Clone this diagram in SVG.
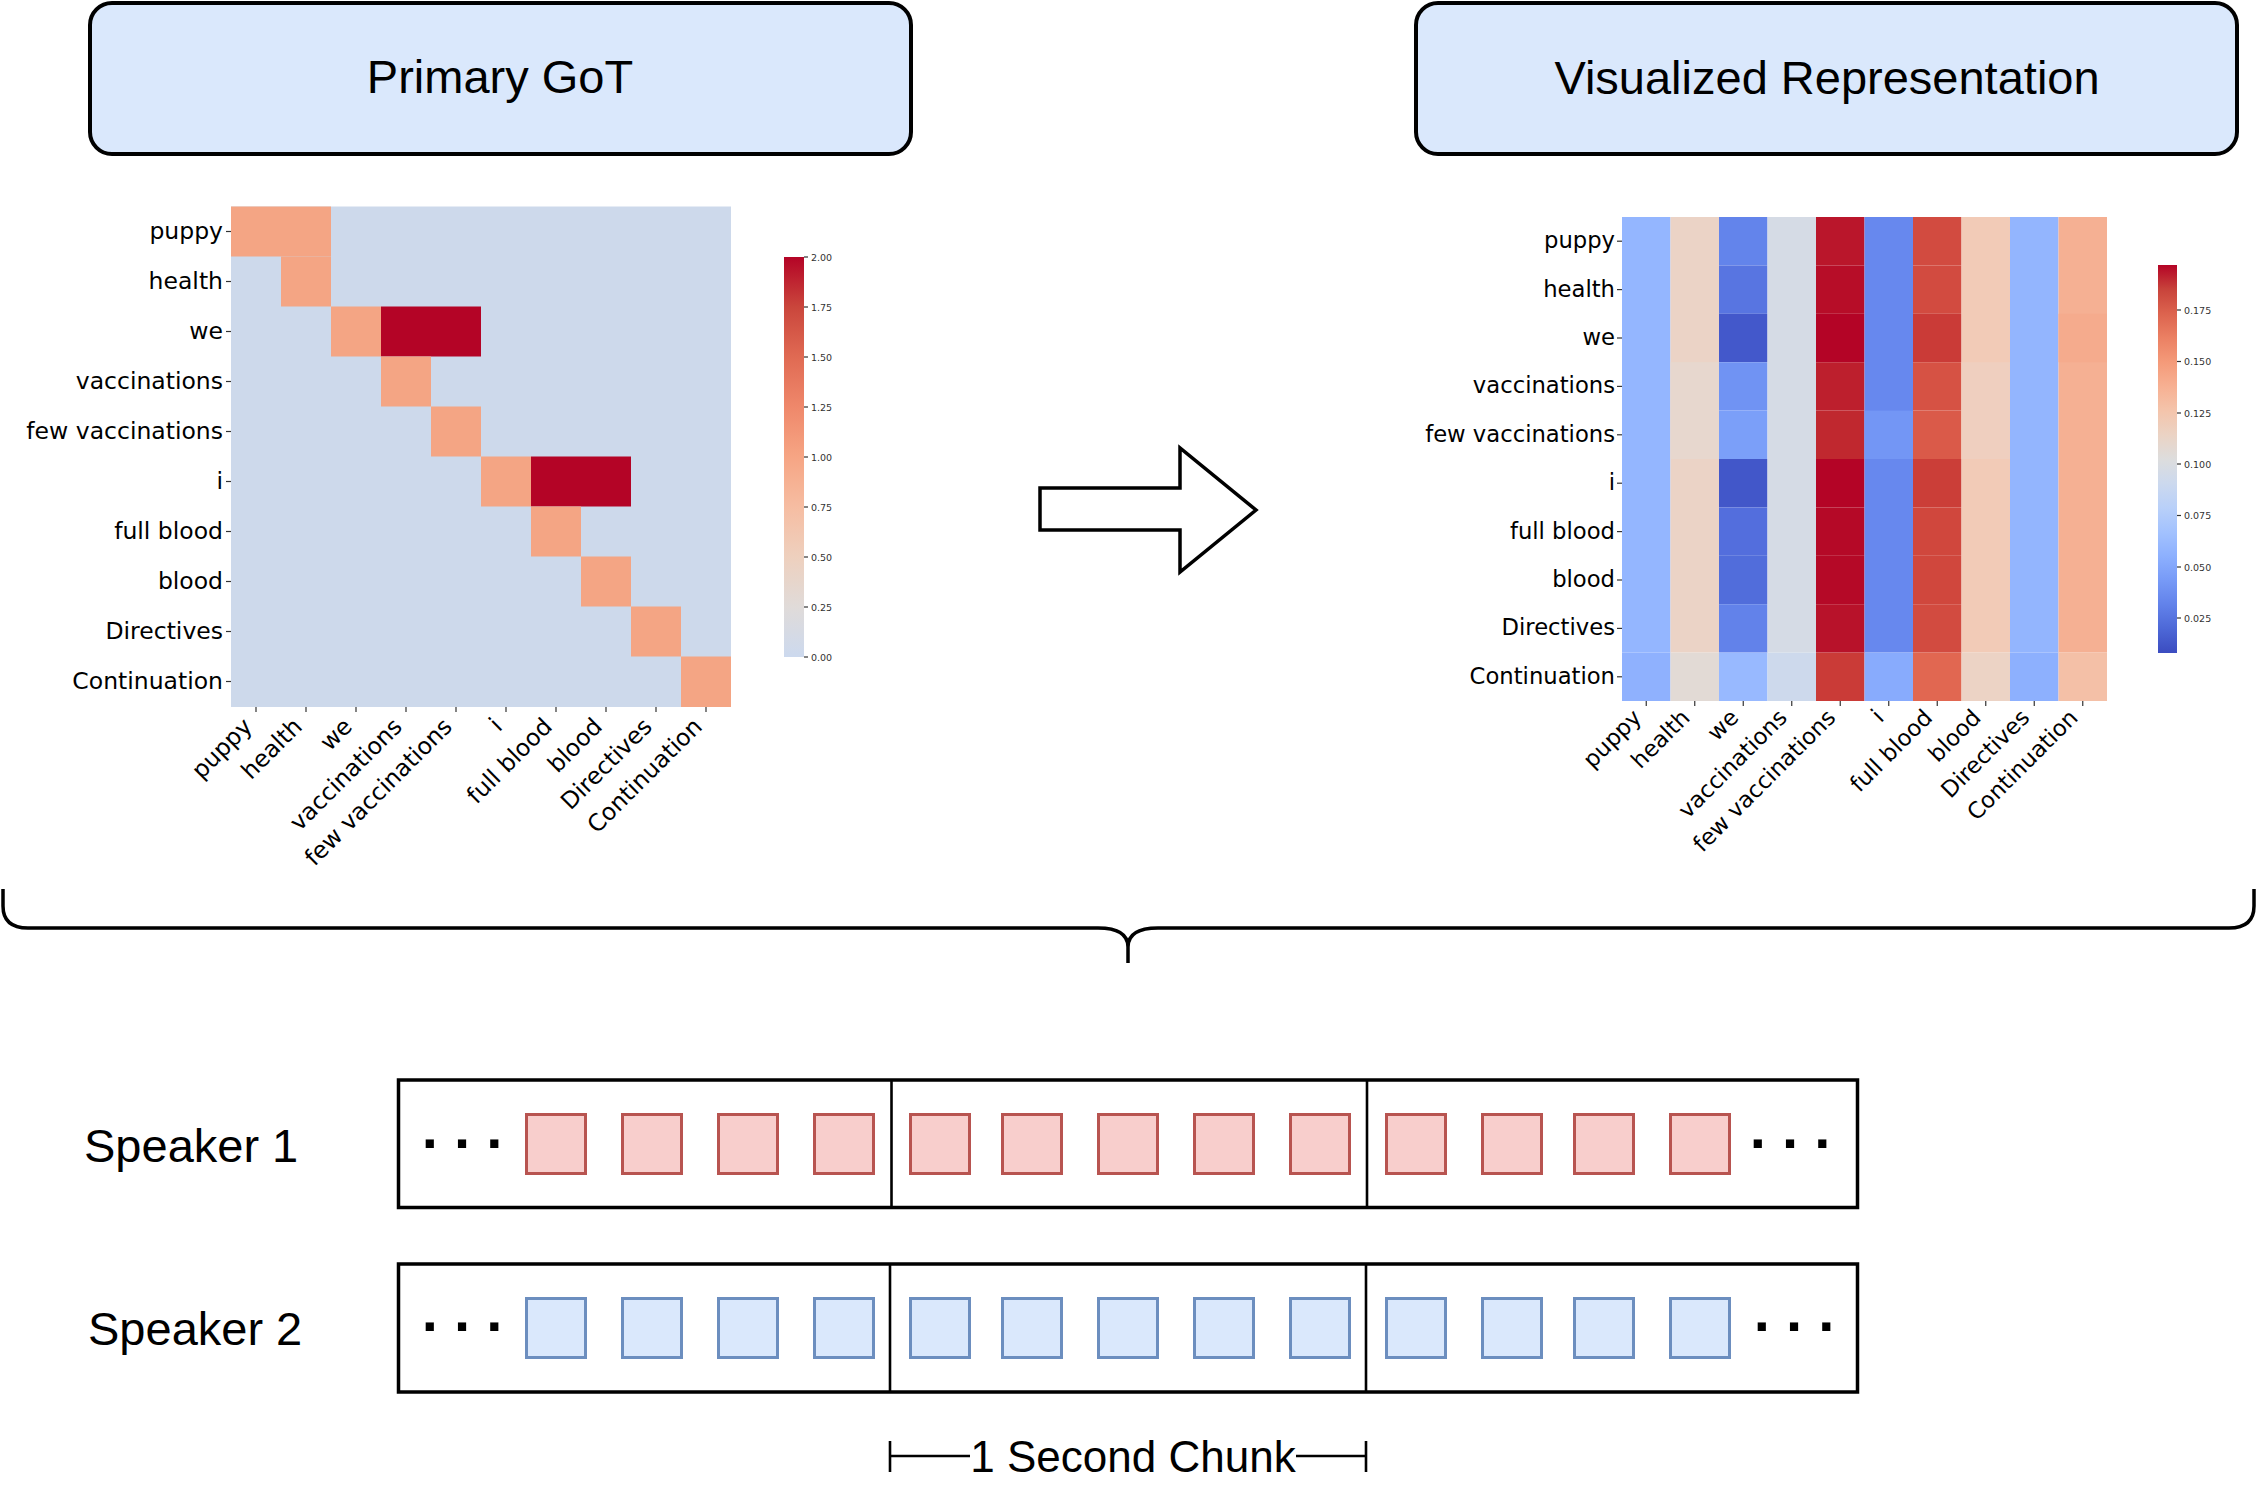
<svg xmlns="http://www.w3.org/2000/svg" width="2264" height="1496" viewBox="0 0 2264 1496">
<style>
.title{font-family:"Liberation Sans",Arial,sans-serif;font-size:47px;fill:#000;text-anchor:middle}
.tbox{fill:#DAE8FC;stroke:#000;stroke-width:4}
.ylab{font-family:"DejaVu Sans",sans-serif;font-size:23.5px;fill:#000;text-anchor:end}
.ylab2{font-family:"DejaVu Sans",sans-serif;font-size:22.7px;fill:#000;text-anchor:end}
.tick{stroke:#333;stroke-width:1.2}
.cbl{font-family:"DejaVu Sans",sans-serif;font-size:9.5px;fill:#333}
.sqr{fill:#F8CECC;stroke:#B85450;stroke-width:3}
.sqb{fill:#DAE8FC;stroke:#6C8EBF;stroke-width:3}
.frame{fill:#fff;stroke:#000;stroke-width:3.5}
.div{stroke:#000;stroke-width:2.6}
.spk{font-family:"Liberation Sans",Arial,sans-serif;font-size:47px;fill:#000}
.dots{font-family:"Liberation Sans",Arial,sans-serif;font-size:58px;font-weight:bold;fill:#000;text-anchor:middle}
.line{fill:none;stroke:#000;stroke-width:3.5}
.s{fill:#F4A584}
.r{fill:#B40426}
</style>
<defs>
<linearGradient id="cbLeft" x1="0" y1="0" x2="0" y2="1">
<stop offset="0" stop-color="#B40426"/>
<stop offset="0.125" stop-color="#CA463C"/>
<stop offset="0.25" stop-color="#E06A53"/>
<stop offset="0.375" stop-color="#EF886B"/>
<stop offset="0.5" stop-color="#F6A584"/>
<stop offset="0.625" stop-color="#F6BDA2"/>
<stop offset="0.75" stop-color="#EED0BE"/>
<stop offset="0.875" stop-color="#E0DBD9"/>
<stop offset="1" stop-color="#CCD9EE"/>
</linearGradient>
<linearGradient id="cbRight" x1="0" y1="0" x2="0" y2="1">
<stop offset="0" stop-color="#B40426"/>
<stop offset="0.0625" stop-color="#C8433B"/>
<stop offset="0.125" stop-color="#DC634E"/>
<stop offset="0.1875" stop-color="#EB8063"/>
<stop offset="0.25" stop-color="#F49A79"/>
<stop offset="0.3125" stop-color="#F7B092"/>
<stop offset="0.375" stop-color="#F4C4AB"/>
<stop offset="0.4375" stop-color="#EBD3C4"/>
<stop offset="0.5" stop-color="#DDDDDD"/>
<stop offset="0.5625" stop-color="#CCD9EE"/>
<stop offset="0.625" stop-color="#B9D0F9"/>
<stop offset="0.6875" stop-color="#A3C2FE"/>
<stop offset="0.75" stop-color="#8DB0FE"/>
<stop offset="0.8125" stop-color="#779AF7"/>
<stop offset="0.875" stop-color="#6282EA"/>
<stop offset="0.9375" stop-color="#4D68D7"/>
<stop offset="1" stop-color="#3B4CC0"/>
</linearGradient>
</defs>
<rect width="2264" height="1496" fill="#fff"/>

<g id="title-primary">
<rect class="tbox" x="90" y="3" width="821" height="151" rx="22"/>
<text class="title" x="500" y="93">Primary GoT</text>
</g>

<g id="title-visualized">
<rect class="tbox" x="1416" y="3" width="821" height="151" rx="22"/>
<text class="title" x="1827" y="94">Visualized Representation</text>
</g>

<g id="heatmap-primary">
<rect x="231" y="206.5" width="500" height="500.5" fill="#CDD9EB"/>
<rect class="s" x="231" y="206.5" width="100" height="50"/>
<rect class="s" x="281" y="256.5" width="50" height="50"/>
<rect class="s" x="331" y="306.5" width="50" height="50"/>
<rect class="r" x="381" y="306.5" width="100" height="50"/>
<rect class="s" x="381" y="356.5" width="50" height="50"/>
<rect class="s" x="431" y="406.5" width="50" height="50"/>
<rect class="s" x="481" y="456.5" width="50" height="50"/>
<rect class="r" x="531" y="456.5" width="100" height="50"/>
<rect class="s" x="531" y="506.5" width="50" height="50"/>
<rect class="s" x="581" y="556.5" width="50" height="50"/>
<rect class="s" x="631" y="606.5" width="50" height="50"/>
<rect class="s" x="681" y="656.5" width="50" height="50.5"/>
<g class="tick">
<line x1="226" y1="231.5" x2="231" y2="231.5"/><line x1="226" y1="281.5" x2="231" y2="281.5"/><line x1="226" y1="331.5" x2="231" y2="331.5"/><line x1="226" y1="381.5" x2="231" y2="381.5"/><line x1="226" y1="431.5" x2="231" y2="431.5"/><line x1="226" y1="481.5" x2="231" y2="481.5"/><line x1="226" y1="531.5" x2="231" y2="531.5"/><line x1="226" y1="581.5" x2="231" y2="581.5"/><line x1="226" y1="631.5" x2="231" y2="631.5"/><line x1="226" y1="681.5" x2="231" y2="681.5"/>
<line x1="256" y1="707" x2="256" y2="712"/><line x1="306" y1="707" x2="306" y2="712"/><line x1="356" y1="707" x2="356" y2="712"/><line x1="406" y1="707" x2="406" y2="712"/><line x1="456" y1="707" x2="456" y2="712"/><line x1="506" y1="707" x2="506" y2="712"/><line x1="556" y1="707" x2="556" y2="712"/><line x1="606" y1="707" x2="606" y2="712"/><line x1="656" y1="707" x2="656" y2="712"/><line x1="706" y1="707" x2="706" y2="712"/>
</g>
<text class="ylab" x="223" y="238.5">puppy</text>
<text class="ylab" x="223" y="288.5">health</text>
<text class="ylab" x="223" y="338.5">we</text>
<text class="ylab" x="223" y="388.5">vaccinations</text>
<text class="ylab" x="223" y="438.5">few vaccinations</text>
<text class="ylab" x="223" y="488.5">i</text>
<text class="ylab" x="223" y="538.5">full blood</text>
<text class="ylab" x="223" y="588.5">blood</text>
<text class="ylab" x="223" y="638.5">Directives</text>
<text class="ylab" x="223" y="688.5">Continuation</text>
<text class="ylab" transform="translate(253.5,728) rotate(-45)">puppy</text>
<text class="ylab" transform="translate(303.5,728) rotate(-45)">health</text>
<text class="ylab" transform="translate(353.5,728) rotate(-45)">we</text>
<text class="ylab" transform="translate(403.5,728) rotate(-45)">vaccinations</text>
<text class="ylab" transform="translate(453.5,728) rotate(-45)">few vaccinations</text>
<text class="ylab" transform="translate(503.5,728) rotate(-45)">i</text>
<text class="ylab" transform="translate(553.5,728) rotate(-45)">full blood</text>
<text class="ylab" transform="translate(603.5,728) rotate(-45)">blood</text>
<text class="ylab" transform="translate(653.5,728) rotate(-45)">Directives</text>
<text class="ylab" transform="translate(703.5,728) rotate(-45)">Continuation</text>
</g>

<g id="colorbar-primary">
<rect x="784" y="257" width="20" height="400" fill="url(#cbLeft)"/>
<g class="tick">
<line x1="804" y1="257" x2="808" y2="257"/><line x1="804" y1="307" x2="808" y2="307"/><line x1="804" y1="357" x2="808" y2="357"/><line x1="804" y1="407" x2="808" y2="407"/><line x1="804" y1="457" x2="808" y2="457"/><line x1="804" y1="507" x2="808" y2="507"/><line x1="804" y1="557" x2="808" y2="557"/><line x1="804" y1="607" x2="808" y2="607"/><line x1="804" y1="657" x2="808" y2="657"/>
</g>
<text class="cbl" x="811" y="260.5">2.00</text>
<text class="cbl" x="811" y="310.5">1.75</text>
<text class="cbl" x="811" y="360.5">1.50</text>
<text class="cbl" x="811" y="410.5">1.25</text>
<text class="cbl" x="811" y="460.5">1.00</text>
<text class="cbl" x="811" y="510.5">0.75</text>
<text class="cbl" x="811" y="560.5">0.50</text>
<text class="cbl" x="811" y="610.5">0.25</text>
<text class="cbl" x="811" y="660.5">0.00</text>
</g>

<g id="heatmap-visualized">
<rect x="1622" y="217" width="48.5" height="435.6" fill="#94B6FF"/>
<rect x="1622" y="652.6" width="48.5" height="48.4" fill="#8FB1FE"/>
<rect x="1670.5" y="217" width="48.5" height="435.6" fill="#EBD3C6"/>
<rect x="1670.5" y="362.2" width="48.5" height="96.8" fill="#E7D7CE"/>
<rect x="1670.5" y="652.6" width="48.5" height="48.4" fill="#E2DAD5"/>
<rect x="1719" y="217" width="48.5" height="48.4" fill="#6384EB"/>
<rect x="1719" y="265.4" width="48.5" height="48.4" fill="#5875E1"/>
<rect x="1719" y="313.8" width="48.5" height="48.4" fill="#4358CB"/>
<rect x="1719" y="362.2" width="48.5" height="48.4" fill="#7093F3"/>
<rect x="1719" y="410.6" width="48.5" height="48.4" fill="#7B9FF9"/>
<rect x="1719" y="459" width="48.5" height="48.4" fill="#4257C9"/>
<rect x="1719" y="507.4" width="48.5" height="48.4" fill="#536EDD"/>
<rect x="1719" y="555.8" width="48.5" height="48.4" fill="#516DDB"/>
<rect x="1719" y="604.2" width="48.5" height="48.4" fill="#6282EA"/>
<rect x="1719" y="652.6" width="48.5" height="48.4" fill="#98B9FF"/>
<rect x="1767.5" y="217" width="48.5" height="435.6" fill="#D5DBE5"/>
<rect x="1767.5" y="652.6" width="48.5" height="48.4" fill="#CDD9EC"/>
<rect x="1816" y="217" width="48.5" height="48.4" fill="#BA162B"/>
<rect x="1816" y="265.4" width="48.5" height="48.4" fill="#B70D28"/>
<rect x="1816" y="313.8" width="48.5" height="48.4" fill="#B40426"/>
<rect x="1816" y="362.2" width="48.5" height="48.4" fill="#BD1F2D"/>
<rect x="1816" y="410.6" width="48.5" height="48.4" fill="#C0282F"/>
<rect x="1816" y="459" width="48.5" height="48.4" fill="#B40426"/>
<rect x="1816" y="507.4" width="48.5" height="48.4" fill="#B50927"/>
<rect x="1816" y="555.8" width="48.5" height="48.4" fill="#B50927"/>
<rect x="1816" y="604.2" width="48.5" height="48.4" fill="#B8122A"/>
<rect x="1816" y="652.6" width="48.5" height="48.4" fill="#CA3B37"/>
<rect x="1864.5" y="217" width="48.5" height="435.6" fill="#6788EE"/>
<rect x="1864.5" y="410.6" width="48.5" height="48.4" fill="#7396F5"/>
<rect x="1864.5" y="652.6" width="48.5" height="48.4" fill="#88ABFD"/>
<rect x="1913" y="217" width="48.5" height="48.4" fill="#D24B40"/>
<rect x="1913" y="265.4" width="48.5" height="48.4" fill="#D24B40"/>
<rect x="1913" y="313.8" width="48.5" height="48.4" fill="#CA3B37"/>
<rect x="1913" y="362.2" width="48.5" height="48.4" fill="#D65244"/>
<rect x="1913" y="410.6" width="48.5" height="48.4" fill="#DA5A49"/>
<rect x="1913" y="459" width="48.5" height="48.4" fill="#CB3E38"/>
<rect x="1913" y="507.4" width="48.5" height="48.4" fill="#D0473D"/>
<rect x="1913" y="555.8" width="48.5" height="48.4" fill="#D0473D"/>
<rect x="1913" y="604.2" width="48.5" height="48.4" fill="#D24B40"/>
<rect x="1913" y="652.6" width="48.5" height="48.4" fill="#E16751"/>
<rect x="1961.5" y="217" width="48.5" height="435.6" fill="#F2CBB7"/>
<rect x="1961.5" y="362.2" width="48.5" height="96.8" fill="#EFCFBF"/>
<rect x="1961.5" y="652.6" width="48.5" height="48.4" fill="#ECD3C5"/>
<rect x="2010" y="217" width="48.5" height="435.6" fill="#93B5FE"/>
<rect x="2010" y="652.6" width="48.5" height="48.4" fill="#8DB0FE"/>
<rect x="2058.5" y="217" width="48.5" height="435.6" fill="#F5B093"/>
<rect x="2058.5" y="313.8" width="48.5" height="48.4" fill="#F5AB8D"/>
<rect x="2058.5" y="652.6" width="48.5" height="48.4" fill="#F4C0A7"/>
<g class="tick">
<line x1="1617" y1="241.2" x2="1622" y2="241.2"/><line x1="1617" y1="289.6" x2="1622" y2="289.6"/><line x1="1617" y1="338" x2="1622" y2="338"/><line x1="1617" y1="386.4" x2="1622" y2="386.4"/><line x1="1617" y1="434.8" x2="1622" y2="434.8"/><line x1="1617" y1="483.2" x2="1622" y2="483.2"/><line x1="1617" y1="531.6" x2="1622" y2="531.6"/><line x1="1617" y1="580" x2="1622" y2="580"/><line x1="1617" y1="628.4" x2="1622" y2="628.4"/><line x1="1617" y1="676.8" x2="1622" y2="676.8"/>
<line x1="1646.25" y1="701" x2="1646.25" y2="706"/><line x1="1694.75" y1="701" x2="1694.75" y2="706"/><line x1="1743.25" y1="701" x2="1743.25" y2="706"/><line x1="1791.75" y1="701" x2="1791.75" y2="706"/><line x1="1840.25" y1="701" x2="1840.25" y2="706"/><line x1="1888.75" y1="701" x2="1888.75" y2="706"/><line x1="1937.25" y1="701" x2="1937.25" y2="706"/><line x1="1985.75" y1="701" x2="1985.75" y2="706"/><line x1="2034.25" y1="701" x2="2034.25" y2="706"/><line x1="2082.75" y1="701" x2="2082.75" y2="706"/>
</g>
<text class="ylab2" x="1615" y="248.2">puppy</text>
<text class="ylab2" x="1615" y="296.6">health</text>
<text class="ylab2" x="1615" y="345">we</text>
<text class="ylab2" x="1615" y="393.4">vaccinations</text>
<text class="ylab2" x="1615" y="441.8">few vaccinations</text>
<text class="ylab2" x="1615" y="490.2">i</text>
<text class="ylab2" x="1615" y="538.6">full blood</text>
<text class="ylab2" x="1615" y="587">blood</text>
<text class="ylab2" x="1615" y="635.4">Directives</text>
<text class="ylab2" x="1615" y="683.8">Continuation</text>
<text class="ylab2" transform="translate(1642.75,719) rotate(-45)">puppy</text>
<text class="ylab2" transform="translate(1691.25,719) rotate(-45)">health</text>
<text class="ylab2" transform="translate(1739.75,719) rotate(-45)">we</text>
<text class="ylab2" transform="translate(1788.25,719) rotate(-45)">vaccinations</text>
<text class="ylab2" transform="translate(1836.75,719) rotate(-45)">few vaccinations</text>
<text class="ylab2" transform="translate(1885.25,719) rotate(-45)">i</text>
<text class="ylab2" transform="translate(1933.75,719) rotate(-45)">full blood</text>
<text class="ylab2" transform="translate(1982.25,719) rotate(-45)">blood</text>
<text class="ylab2" transform="translate(2030.75,719) rotate(-45)">Directives</text>
<text class="ylab2" transform="translate(2079.25,719) rotate(-45)">Continuation</text>
</g>

<g id="colorbar-visualized">
<rect x="2158" y="265" width="19" height="388" fill="url(#cbRight)"/>
<g class="tick">
<line x1="2177" y1="310" x2="2181" y2="310"/><line x1="2177" y1="361.5" x2="2181" y2="361.5"/><line x1="2177" y1="413" x2="2181" y2="413"/><line x1="2177" y1="464" x2="2181" y2="464"/><line x1="2177" y1="515.5" x2="2181" y2="515.5"/><line x1="2177" y1="567" x2="2181" y2="567"/><line x1="2177" y1="618" x2="2181" y2="618"/>
</g>
<text class="cbl" x="2184" y="313.5">0.175</text>
<text class="cbl" x="2184" y="365">0.150</text>
<text class="cbl" x="2184" y="416.5">0.125</text>
<text class="cbl" x="2184" y="467.5">0.100</text>
<text class="cbl" x="2184" y="519">0.075</text>
<text class="cbl" x="2184" y="570.5">0.050</text>
<text class="cbl" x="2184" y="621.5">0.025</text>
</g>

<g id="connectors">
<polygon id="arrow" points="1040,488 1180,488 1180,448 1256,510 1180,572 1180,530 1040,530" fill="#fff" stroke="#000" stroke-width="3.5" stroke-linejoin="miter"/>
<path id="brace" class="line" d="M3 889 L3 906 Q3 928 28 928 L1098 928 Q1128 928 1128 947 L1128 963 M1128 947 Q1128 928 1158 928 L2229 928 Q2254 928 2254 906 L2254 889"/>
<g id="chunk-marker">
<line class="div" x1="890" y1="1441" x2="890" y2="1472"/>
<line class="div" x1="1366" y1="1441" x2="1366" y2="1472"/>
<line class="div" x1="890" y1="1456" x2="970" y2="1456"/>
<line class="div" x1="1296" y1="1456" x2="1366" y2="1456"/>
</g>
</g>

<g id="speaker1">
<text class="spk" x="84" y="1162">Speaker 1</text>
<rect class="frame" x="398.5" y="1080" width="1459" height="127.5"/>
<line class="div" x1="891.5" y1="1080" x2="891.5" y2="1207.5"/>
<line class="div" x1="1367" y1="1080" x2="1367" y2="1207.5"/>
<text class="dots" x="462" y="1148">. . .</text>
<rect class="sqr" x="526.5" y="1114.5" width="59" height="59"/>
<rect class="sqr" x="622.5" y="1114.5" width="59" height="59"/>
<rect class="sqr" x="718.5" y="1114.5" width="59" height="59"/>
<rect class="sqr" x="814.5" y="1114.5" width="59" height="59"/>
<rect class="sqr" x="910.5" y="1114.5" width="59" height="59"/>
<rect class="sqr" x="1002.5" y="1114.5" width="59" height="59"/>
<rect class="sqr" x="1098.5" y="1114.5" width="59" height="59"/>
<rect class="sqr" x="1194.5" y="1114.5" width="59" height="59"/>
<rect class="sqr" x="1290.5" y="1114.5" width="59" height="59"/>
<rect class="sqr" x="1386.5" y="1114.5" width="59" height="59"/>
<rect class="sqr" x="1482.5" y="1114.5" width="59" height="59"/>
<rect class="sqr" x="1574.5" y="1114.5" width="59" height="59"/>
<rect class="sqr" x="1670.5" y="1114.5" width="59" height="59"/>
<text class="dots" x="1790" y="1148">. . .</text>
</g>

<g id="speaker2">
<text class="spk" x="88" y="1345">Speaker 2</text>
<rect class="frame" x="398.5" y="1264" width="1459" height="128"/>
<line class="div" x1="890" y1="1264" x2="890" y2="1392"/>
<line class="div" x1="1366" y1="1264" x2="1366" y2="1392"/>
<text class="dots" x="462" y="1331">. . .</text>
<rect class="sqb" x="526.5" y="1298.5" width="59" height="59"/>
<rect class="sqb" x="622.5" y="1298.5" width="59" height="59"/>
<rect class="sqb" x="718.5" y="1298.5" width="59" height="59"/>
<rect class="sqb" x="814.5" y="1298.5" width="59" height="59"/>
<rect class="sqb" x="910.5" y="1298.5" width="59" height="59"/>
<rect class="sqb" x="1002.5" y="1298.5" width="59" height="59"/>
<rect class="sqb" x="1098.5" y="1298.5" width="59" height="59"/>
<rect class="sqb" x="1194.5" y="1298.5" width="59" height="59"/>
<rect class="sqb" x="1290.5" y="1298.5" width="59" height="59"/>
<rect class="sqb" x="1386.5" y="1298.5" width="59" height="59"/>
<rect class="sqb" x="1482.5" y="1298.5" width="59" height="59"/>
<rect class="sqb" x="1574.5" y="1298.5" width="59" height="59"/>
<rect class="sqb" x="1670.5" y="1298.5" width="59" height="59"/>
<text class="dots" x="1794" y="1331">. . .</text>
</g>

<g id="chunk-label">
<text class="spk" x="1133" y="1472" style="font-size:44px" text-anchor="middle">1 Second Chunk</text>
</g>
</svg>
